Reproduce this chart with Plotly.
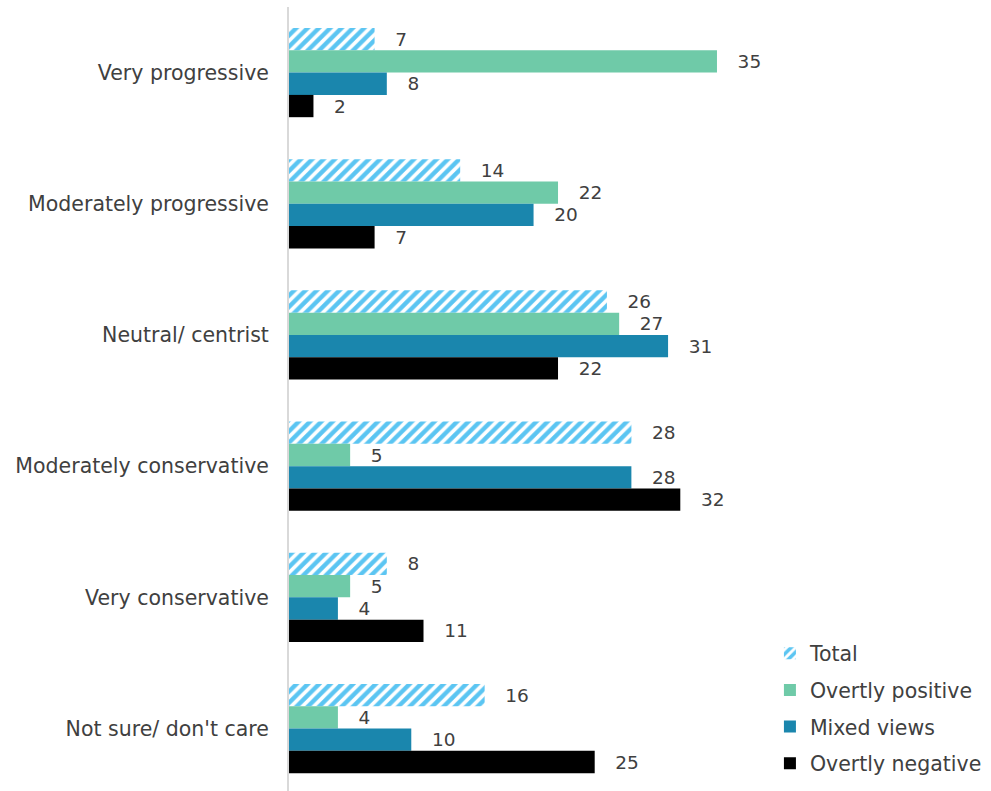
import plotly.graph_objects as go

categories = [
    "Very progressive",
    "Moderately progressive",
    "Neutral/ centrist",
    "Moderately conservative",
    "Very conservative",
    "Not sure/ don't care",
]
total = [7, 14, 26, 28, 8, 16]
overtly_positive = [35, 22, 27, 5, 5, 4]
mixed_views = [8, 20, 31, 28, 4, 10]
overtly_negative = [2, 7, 22, 32, 11, 25]

FONT = "DejaVu Sans"
TEXT_COLOR = "#404040"
LABEL_SIZE = 20.5

fig = go.Figure()

series = [
    ("Total", total, "#5bc5f2", True),
    ("Overtly positive", overtly_positive, "#6fcaa8", False),
    ("Mixed views", mixed_views, "#1a86ad", False),
    ("Overtly negative", overtly_negative, "#000000", False),
]

for name, vals, color, hatched in series:
    marker = dict(color=color, line=dict(width=0))
    if hatched:
        marker["pattern"] = dict(shape="/", fgcolor="white", bgcolor=color,
                                 size=8, solidity=0.45, fillmode="replace")
    fig.add_trace(go.Bar(
        name=name,
        legendgroup=name,
        y=categories,
        x=vals,
        orientation="h",
        marker=marker,
        texttemplate="   %{x}",
        textposition="outside",
        textfont=dict(family=FONT, size=18.5, color=TEXT_COLOR),
        cliponaxis=False,
    ))

fig.update_layout(
    width=991,
    height=791,
    margin=dict(l=289, r=5, t=7, b=0),
    paper_bgcolor="white",
    plot_bgcolor="white",
    barmode="group",
    bargap=0.32,
    bargroupgap=0,
    font=dict(family=FONT, size=LABEL_SIZE, color=TEXT_COLOR),
    showlegend=True,
    legend=dict(
        x=0.69, y=0.201, xanchor="left", yanchor="top",
        font=dict(family=FONT, size=LABEL_SIZE, color=TEXT_COLOR),
        bgcolor="rgba(0,0,0,0)",
        itemwidth=30,
        tracegroupgap=7,
    ),
    xaxis=dict(range=[0, 57], visible=False, showgrid=False, zeroline=False),
    yaxis=dict(
        range=[5.476, -0.5],
        showline=True, linecolor="#d9d9d9", linewidth=2,
        showgrid=False, zeroline=False, ticks="",
        ticklabelstandoff=14,
        tickfont=dict(family=FONT, size=LABEL_SIZE, color=TEXT_COLOR),
        automargin=False,
    ),
)

fig.write_html("out.html")
